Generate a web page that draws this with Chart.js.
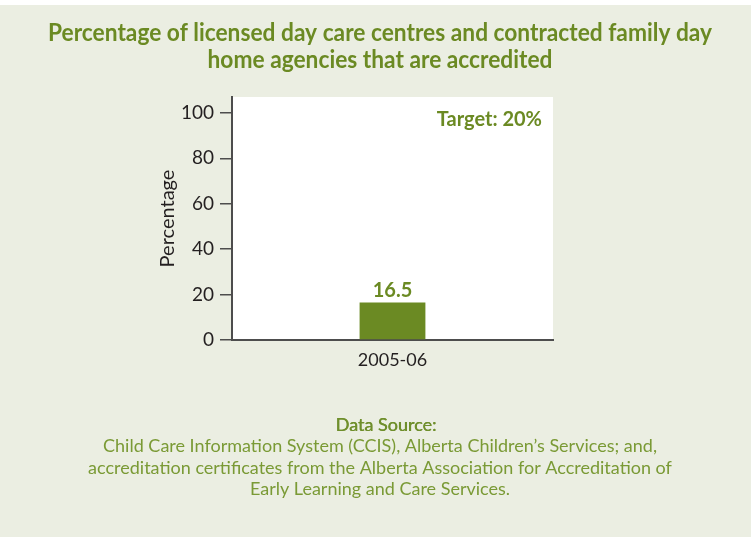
<!DOCTYPE html>
<html>
<head>
<meta charset="utf-8">
<script src="https://cdn.jsdelivr.net/npm/chart.js@4"></script>
<style>
  html, body { margin: 0; padding: 0; background: #ffffff; }
  #wrap { width: 751px; height: 537px; position: relative; }
</style>
</head>
<body>
<div id="wrap"><canvas id="chart" width="751" height="537"></canvas></div>
<script>
// data
const years = ['2005-06'];
const accredited = [16.5];
const yTicks = [0, 20, 40, 60, 80, 100];
const targetText = 'Target: 20%';
const titleLines = ['Percentage of licensed day care centres and contracted family day', 'home agencies that are accredited'];
const sourceLines = ['Child Care Information System (CCIS), Alberta Children\u2019s Services; and,',
    'accreditation certificates from the Alberta Association for Accreditation of',
    'Early Learning and Care Services.'];

const green = '#6b8a23';
const textGreen = '#7a9a35';
const bodyFont = 'Lato, "Open Sans", sans-serif';

// page background, title, target note, value label and footer
const decorations = {
    id: 'decorations',
    beforeDraw(chart) {
        const ctx = chart.ctx;
        const a = chart.chartArea;
        ctx.save();
        ctx.fillStyle = '#ebeee2';
        ctx.fillRect(0, 5, chart.width, chart.height - 5);
        ctx.fillStyle = '#ffffff';
        ctx.fillRect(a.left, a.top, a.right - a.left, a.bottom - a.top);
        ctx.restore();
    },
    afterDraw(chart) {
        const ctx = chart.ctx;
        const a = chart.chartArea;
        const x = chart.scales.x;
        const y = chart.scales.y;
        ctx.save();
        ctx.textAlign = 'center';
        ctx.textBaseline = 'alphabetic';

        // title in a squeezed bold face, like the condensed original
        ctx.fillStyle = green;
        ctx.font = 'bold 24px ' + bodyFont;
        const squeeze = 664 / ctx.measureText(titleLines[0]).width;
        ctx.save();
        ctx.translate(380, 0);
        ctx.scale(squeeze, 1);
        titleLines.forEach((line, i) => ctx.fillText(line, 0, 41 + i * 27));
        ctx.restore();

        ctx.font = 'bold 20px ' + bodyFont;
        ctx.textAlign = 'right';
        ctx.fillText(targetText, a.right - 11, a.top + 29);

        ctx.textAlign = 'center';
        accredited.forEach((v, i) => {
            ctx.fillText(v.toFixed(1), x.getPixelForValue(i), y.getPixelForValue(v) - 6);
        });

        ctx.fillStyle = '#6f8f2c';
        ctx.font = '18px ' + bodyFont;
        ctx.fillText('Data Source:', 386, 431);
        ctx.fillText('Data Source:', 386.4, 431);
        ctx.fillStyle = textGreen;
        sourceLines.forEach((line, i) => ctx.fillText(line, 380, 452 + i * 21.5));
        ctx.restore();
    }
};

new Chart(document.getElementById('chart').getContext('2d'), {
    type: 'bar',
    data: {
        labels: years,
        datasets: [{
            data: accredited,
            backgroundColor: green,
            borderWidth: 0,
            barPercentage: 0.205,
            categoryPercentage: 1.0
        }]
    },
    options: {
        responsive: false,
        animation: false,
        layout: { padding: { left: 150, right: 198, top: 97, bottom: 157 } },
        plugins: {
            legend: { display: false },
            tooltip: { enabled: false },
            title: { display: false }
        },
        scales: {
            x: {
                afterFit(scale) { scale.height = 40; },
                grid: { display: false, drawTicks: false },
                border: { display: true, color: '#4d4d4d', width: 2 },
                ticks: { color: '#231f20', padding: 9, font: { family: bodyFont, size: 18 } }
            },
            y: {
                min: 0,
                max: 107,
                afterFit(scale) { scale.width = 82; },
                afterBuildTicks(scale) {
                    scale.ticks = yTicks.map(v => ({ value: v }));
                },
                grid: { drawOnChartArea: false, drawTicks: true, tickLength: 12, color: '#4d4d4d', lineWidth: 1.5 },
                border: { display: true, color: '#4d4d4d', width: 2 },
                ticks: { color: '#231f20', padding: 6, font: { family: bodyFont, size: 19 } },
                title: {
                    display: true,
                    text: 'Percentage',
                    color: '#231f20',
                    padding: { top: 6, bottom: 0 },
                    font: { family: bodyFont, size: 20 }
                }
            }
        }
    },
    plugins: [decorations]
});
</script>
</body>
</html>
